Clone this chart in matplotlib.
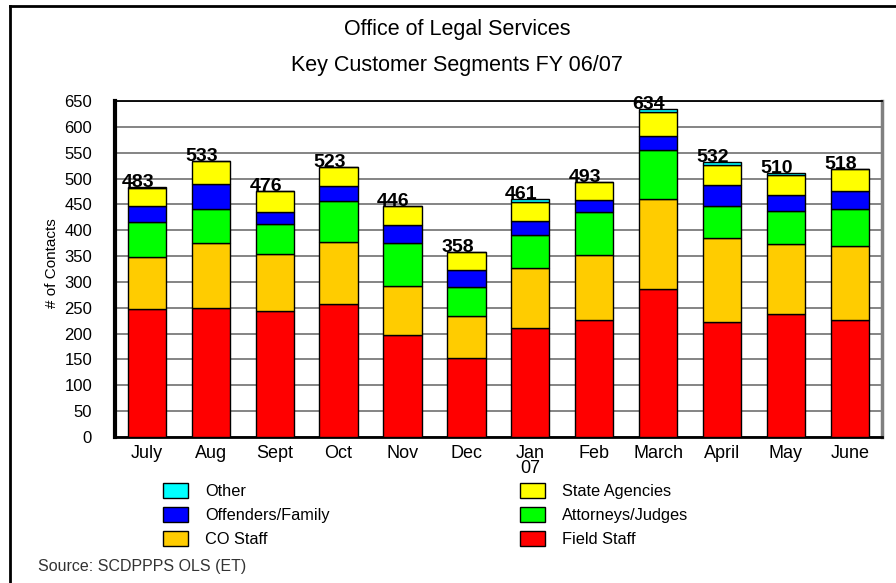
import matplotlib
matplotlib.use("Agg")
import matplotlib.pyplot as plt
from matplotlib.patches import Patch
from matplotlib.lines import Line2D
import numpy as np

plt.rcParams['font.family'] = ['Liberation Sans', 'DejaVu Sans']

months = ["July", "Aug", "Sept", "Oct", "Nov", "Dec", "Jan\n07", "Feb", "March", "April", "May", "June"]
field_staff = [248, 250, 243, 258, 197, 153, 210, 227, 287, 222, 238, 227]
co_staff = [100, 126, 111, 120, 95, 81, 116, 126, 173, 163, 136, 142]
attorneys_judges = [68, 66, 58, 78, 84, 56, 64, 83, 96, 62, 64, 73]
offenders_family = [31, 47, 24, 29, 35, 34, 28, 23, 26, 40, 31, 33]
state_agencies = [35, 44, 40, 38, 35, 34, 37, 34, 46, 40, 38, 43]
other = [1, 0, 0, 0, 0, 0, 6, 0, 6, 5, 3, 0]
totals = [483, 533, 476, 523, 446, 358, 461, 493, 634, 532, 510, 518]
y_ticks = [0, 50, 100, 150, 200, 250, 300, 350, 400, 450, 500, 550, 600, 650]

series = [
    ("Field Staff", field_staff, "#FF0000"),
    ("CO Staff", co_staff, "#FFCC00"),
    ("Attorneys/Judges", attorneys_judges, "#00FF00"),
    ("Offenders/Family", offenders_family, "#0000FF"),
    ("State Agencies", state_agencies, "#FFFF00"),
    ("Other", other, "#00FFFF"),
]

W, H = 896, 583
fig = plt.figure(figsize=(W / 100, H / 100), dpi=100)
ax = fig.add_axes([115 / W, 1 - 437 / H, (881.7 - 115) / W, (437 - 101) / H])

x = np.arange(len(months))
bottom = np.zeros(len(months))
colors = {}
for name, vals, col in series:
    vals = np.array(vals, dtype=float)
    ax.bar(x, vals, width=0.6, bottom=bottom, color=col, edgecolor="black",
           linewidth=1.0, zorder=3)
    bottom += vals
    colors[name] = col

for xi, t in zip(x, totals):
    ax.annotate(str(t), xy=(xi, t), xytext=(-6.5, 0), textcoords="offset points",
                ha="center", va="baseline", fontsize=14, fontweight="bold", zorder=5)

ax.set_xlim(-0.5, len(months) - 0.5)
ax.set_ylim(0, 650)
ax.set_yticks(y_ticks)
ax.set_xticks(x)
ax.set_xticklabels(months, fontsize=13, linespacing=0.85)
ax.tick_params(axis="y", length=0, pad=16.5, labelsize=12)
ax.tick_params(axis="x", length=0, pad=6)
ax.yaxis.grid(True, color="#707070", linewidth=1.2, zorder=0)
ax.set_axisbelow(True)

ax.spines["left"].set_linewidth(3)
ax.spines["left"].set_color("black")
ax.spines["bottom"].set_linewidth(2)
ax.spines["top"].set_linewidth(1.3)
ax.spines["right"].set_linewidth(2.5)
ax.spines["right"].set_color("#808080")

fig.text(52 / W, 1 - 263 / H, "# of Contacts", rotation=90, ha="center", va="center",
         fontsize=11)

fig.text(457 / W, 1 - 30 / H, "Office of Legal Services", ha="center", va="center", fontsize=15.5)
fig.text(457 / W, 1 - 65 / H, "Key Customer Segments FY 06/07", ha="center", va="center", fontsize=15.5)
fig.text(38 / W, 1 - 566 / H, "Source: SCDPPPS OLS (ET)", ha="left", va="center", fontsize=11.5,
         color="#333333")

order = ["Other", "Offenders/Family", "CO Staff", "State Agencies", "Attorneys/Judges", "Field Staff"]
handles = [Patch(facecolor=colors[n], edgecolor="black", linewidth=1.0) for n in order]
fig.legend(handles, order, loc="upper left", bbox_to_anchor=(163 / W, 1 - 482.5 / H),
           ncol=2, frameon=False, fontsize=11.8, borderpad=0, borderaxespad=0,
           handlelength=1.52, handleheight=1.04, handletextpad=1.04,
           labelspacing=0.5, columnspacing=11.6)

# outer frame (left and top)
fig.add_artist(Line2D([10 / W, 10 / W], [0, 1 - 6 / H], color="black", linewidth=2,
                      transform=fig.transFigure))
fig.add_artist(Line2D([10 / W, 1], [1 - 6 / H, 1 - 6 / H], color="black", linewidth=2,
                      transform=fig.transFigure))

fig.savefig("out.png", dpi=100)
